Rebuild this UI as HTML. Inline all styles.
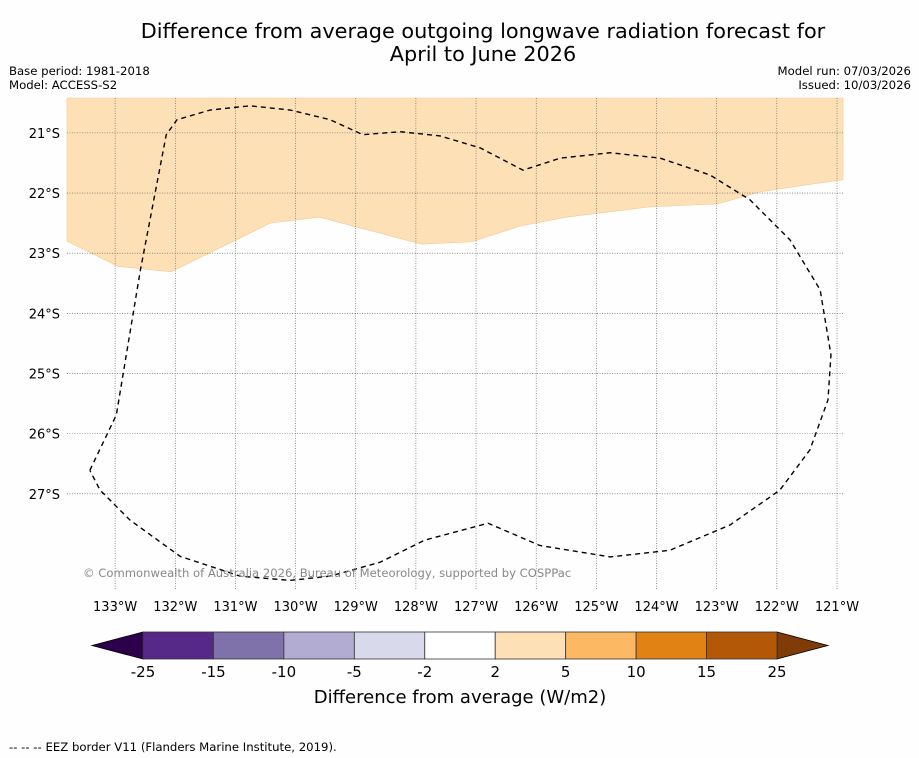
<!DOCTYPE html>
<html><head><meta charset="utf-8"><style>
body{margin:0;background:#fff;font-family:"Liberation Sans","DejaVu Sans",sans-serif}
#wrap{position:relative;width:919px;height:758px;background:#fefefe;overflow:hidden}
</style></head><body>
<div id="wrap">
<svg id="svg" width="919" height="758" font-family="DejaVu Sans, Liberation Sans, sans-serif">
<text x="483" y="38" text-anchor="middle" font-size="20.8">Difference from average outgoing longwave radiation forecast for</text>
<text x="483" y="61" text-anchor="middle" font-size="20.8">April to June 2026</text>
<text x="9" y="75" font-size="11.7">Base period: 1981-2018</text>
<text x="9" y="89" font-size="11.7">Model: ACCESS-S2</text>
<text x="911" y="75" font-size="11.7" text-anchor="end">Model run: 07/03/2026</text>
<text x="911" y="89" font-size="11.7" text-anchor="end">Issued: 10/03/2026</text>
<g id="map"></g>
<text x="83" y="577" font-size="11.6" fill="#888">© Commonwealth of Australia 2026, Bureau of Meteorology, supported by COSPPac</text>
<g id="cbar"></g>
<text x="460" y="703" text-anchor="middle" font-size="18">Difference from average (W/m2)</text>
<text x="9" y="751" font-size="11.7">--  --  -- EEZ border V11 (Flanders Marine Institute, 2019).</text>
</svg>
</div>
<script>
const lonTicks=[133,132,131,130,129,128,127,126,125,124,123,122,121];
const latTicks=[21,22,23,24,25,26,27];
const anomalyLon=[133.80,132.95,132.07,130.42,129.61,127.90,127.07,126.27,125.49,124.11,122.98,122.28,121.62,120.90];
const anomalyLat=[22.80,23.22,23.31,22.50,22.40,22.85,22.81,22.55,22.40,22.23,22.18,21.98,21.88,21.78];
const eezLon=[133.42,132.98,132.58,132.15,131.97,131.42,130.76,130.09,129.43,128.88,128.26,127.60,126.93,126.22,125.60,124.77,123.94,123.11,122.45,121.78,121.28,121.10,121.15,121.45,121.95,122.78,123.78,124.77,125.94,126.80,127.85,128.60,129.43,130.09,130.92,131.92,132.75,133.25,133.42];
const eezLat=[26.61,25.69,23.28,21.03,20.78,20.62,20.55,20.62,20.78,21.03,20.98,21.05,21.25,21.62,21.42,21.33,21.42,21.70,22.11,22.78,23.61,24.69,25.44,26.27,26.94,27.52,27.94,28.05,27.86,27.49,27.77,28.14,28.37,28.44,28.37,28.04,27.44,26.94,26.61];
const cbLevels=[-25,-15,-10,-5,-2,2,5,10,15,25];
const cbColors=['#562888','#7f72ab','#b2abd2','#d8daeb','#ffffff','#fee0b6','#fdb863','#e08214','#b35806'];
const cbUnder='#2d004b', cbOver='#7f3b08';
const NS='http://www.w3.org/2000/svg';
const X0=67,X1=843,Y0=98,Y1=590;
const LONW=133.80,LONE=120.90,LATN=20.42,LATS=28.60;
const xs=lon=>X0+(LONW-lon)/(LONW-LONE)*(X1-X0);
const ys=lat=>Y0+(lat-LATN)/(LATS-LATN)*(Y1-Y0);
function mk(tag,at,parent){const e=document.createElementNS(NS,tag);for(const k in at)e.setAttribute(k,at[k]);parent.appendChild(e);return e;}
const map=document.getElementById('map');
let d=`M${X0},${Y0} L${X1},${Y0} `;
for(let i=anomalyLon.length-1;i>=0;i--)d+=`L${xs(anomalyLon[i])},${ys(anomalyLat[i])} `;
d+='Z';
const fill=mk('path',{d:d,fill:'#fee0b6',stroke:'#f3c98f','stroke-width':0.6},map);


lonTicks.forEach(l=>{const x=xs(l);
const g=mk('line',{x1:x,x2:x,y1:Y0,y2:Y1,stroke:'#555','stroke-width':0.6,'stroke-dasharray':'1,1.5'},map);


const t=mk('text',{x:x,y:611,'text-anchor':'middle','font-size':13},map);t.textContent=l+'°W';

});
latTicks.forEach(l=>{const y=ys(l);
const g=mk('line',{x1:X0,x2:X1,y1:y,y2:y,stroke:'#555','stroke-width':0.6,'stroke-dasharray':'1,1.5'},map);


const t=mk('text',{x:60,y:y+5,'text-anchor':'end','font-size':13},map);t.textContent=l+'°S';

});
let p='';eezLon.forEach((l,i)=>p+=(i?'L':'M')+xs(l)+','+ys(eezLat[i])+' ');
const eez=mk('path',{d:p,fill:'none',stroke:'#000','stroke-width':1.4,'stroke-dasharray':'5,4','stroke-linejoin':'round'},map);


const cb=document.getElementById('cbar');
const CX0=143,CX1=777,CY0=632,CY1=659,seg=(CX1-CX0)/cbColors.length;
const under=mk('polygon',{points:`92,${(CY0+CY1)/2} ${CX0},${CY0} ${CX0},${CY1}`,fill:cbUnder,stroke:'#000','stroke-width':0.8},cb);


const over=mk('polygon',{points:`828,${(CY0+CY1)/2} ${CX1},${CY0} ${CX1},${CY1}`,fill:cbOver,stroke:'#000','stroke-width':0.8},cb);


cbColors.forEach((c,i)=>{const r=mk('rect',{x:CX0+i*seg,y:CY0,width:seg,height:CY1-CY0,fill:c,stroke:'#333','stroke-width':0.8},cb);

});
cbLevels.forEach((v,i)=>{const t=mk('text',{x:CX0+i*seg,y:677,'text-anchor':'middle','font-size':15},cb);t.textContent=v;

});
</script>
</body></html>
